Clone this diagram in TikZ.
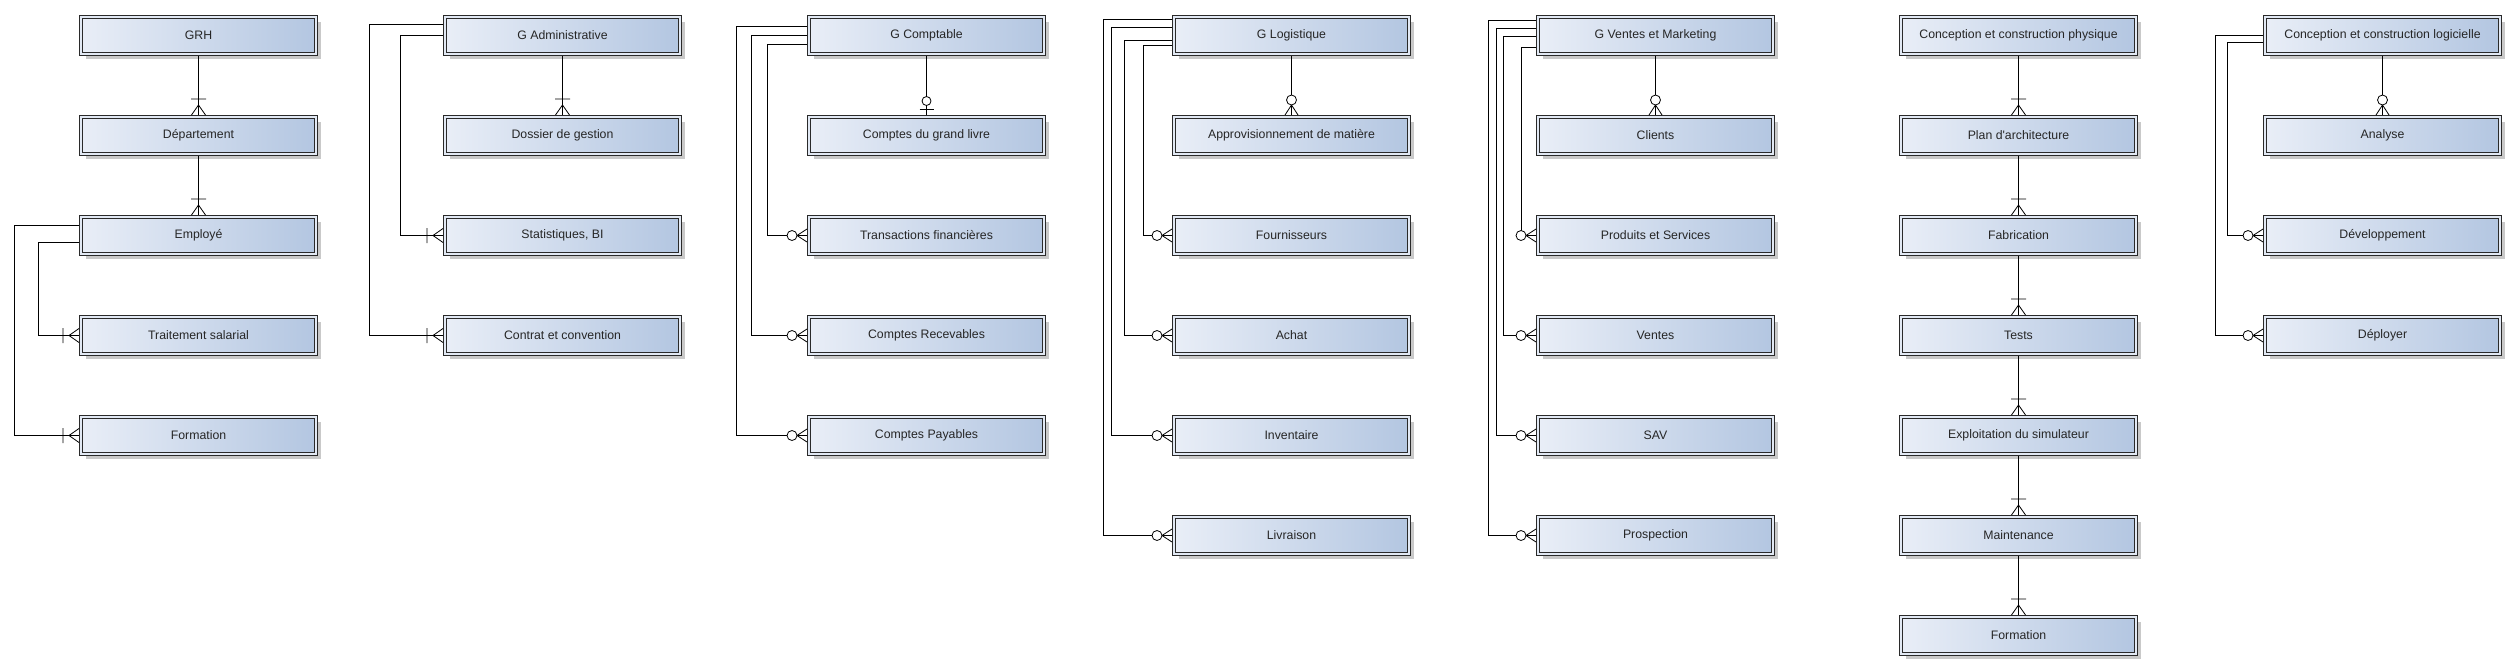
\documentclass[tikz,border=0pt]{standalone}
\usepackage{fontspec}
\setmainfont{Liberation Sans}
\usepackage{xcolor}
\usepackage{tikz}
\usetikzlibrary{positioning,shadows}
\definecolor{boxl}{HTML}{E9EEF7}
\definecolor{boxr}{HTML}{B3C6E1}
\definecolor{boxgap}{HTML}{E2E9F4}
\definecolor{boxline}{HTML}{2A2A2A}

\begin{document}
\begin{tikzpicture}[
x=1pt,y=-1pt,
node distance=59pt,
entity/.style={left color=boxl,right color=boxr,draw=boxline,line width=.7pt,double=boxgap,double distance=2.6pt,
  minimum width=235pt,minimum height=37pt,outer sep=2pt,inner sep=0pt,text=black!85,
  font=\fontsize{12.3}{14}\selectfont,
  drop shadow={shadow xshift=4.5pt,shadow yshift=-4.5pt,opacity=.3,fill=black!70}},
link/.style={draw=black,line width=.8pt},
crowtop/.pic={\draw[link] (-7,0) -- (0,-10) -- (7,0) (-7.5,-16) -- (7.5,-16);},
crowleft/.pic={\draw[link] (0,-7) -- (-10,0) -- (0,7) (-16,-7.5) -- (-16,7.5);},
zmtop/.pic={\draw[link] (-6.5,0) -- (0,-10) -- (6.5,0); \draw[link,fill=white] (0,-15) circle[radius=5pt];},
zmleft/.pic={\draw[link] (0,-6.5) -- (-10,0) -- (0,6.5); \draw[link,fill=white] (-15,0) circle[radius=5pt];},
zotop/.pic={\draw[link] (-7,-6) -- (7,-6); \draw[link,fill=white] (0,-14) circle[radius=4.5pt];}
]
\useasboundingbox (0,0) rectangle (2517,670);

\node[entity] (grh) at (198.5,35.5) {GRH};
\node[entity,below=of grh] (dep) {Département};
\node[entity,below=of dep] (emp) {Employé};
\node[entity,below=of emp] (trait) {Traitement salarial};
\node[entity,below=of trait] (formrh) {Formation};

\node[entity] (gadm) at (562.5,35.5) {G Administrative};
\node[entity,below=of gadm] (dossier) {Dossier de gestion};
\node[entity,below=of dossier] (stats) {Statistiques, BI};
\node[entity,below=of stats] (contrat) {Contrat et convention};

\node[entity] (gcompt) at (926.5,35.5) {G Comptable};
\node[entity,below=of gcompt] (grandlivre) {Comptes du grand livre};
\node[entity,below=of grandlivre] (transac) {Transactions financières};
\node[entity,below=of transac] (recev) {Comptes Recevables};
\node[entity,below=of recev] (payab) {Comptes Payables};

\node[entity] (glog) at (1291.5,35.5) {G Logistique};
\node[entity,below=of glog] (approv) {Approvisionnement de matière};
\node[entity,below=of approv] (fourn) {Fournisseurs};
\node[entity,below=of fourn] (achat) {Achat};
\node[entity,below=of achat] (invent) {Inventaire};
\node[entity,below=of invent] (livr) {Livraison};

\node[entity] (gvente) at (1655.5,35.5) {G Ventes et Marketing};
\node[entity,below=of gvente] (clients) {Clients};
\node[entity,below=of clients] (produits) {Produits et Services};
\node[entity,below=of produits] (ventes) {Ventes};
\node[entity,below=of ventes] (sav) {SAV};
\node[entity,below=of sav] (prosp) {Prospection};

\node[entity] (cphys) at (2018.5,35.5) {Conception et construction physique};
\node[entity,below=of cphys] (plan) {Plan d\textquotesingle architecture};
\node[entity,below=of plan] (fabric) {Fabrication};
\node[entity,below=of fabric] (tests) {Tests};
\node[entity,below=of tests] (exploit) {Exploitation du simulateur};
\node[entity,below=of exploit] (maint) {Maintenance};
\node[entity,below=of maint] (formph) {Formation};

\node[entity] (clog) at (2382.5,35.5) {Conception et construction logicielle};
\node[entity,below=of clog] (analyse) {Analyse};
\node[entity,below=of analyse] (devel) {Développement};
\node[entity,below=of devel] (deploy) {Déployer};

\foreach \a/\b in {grh/dep,dep/emp,gadm/dossier,cphys/plan,plan/fabric,fabric/tests,tests/exploit,exploit/maint,maint/formph}{
  \draw[link] (\a) -- (\b);
  \pic at (\b.north) {crowtop};
}
\foreach \a/\b in {glog/approv,gvente/clients,clog/analyse}{
  \draw[link] (\a) -- (\b);
  \pic at (\b.north) {zmtop};
}
\draw[link] (gcompt) -- (grandlivre);
\pic at (grandlivre.north) {zotop};

\draw[link] ([yshift=-6.5pt]emp.west) -- ++(-40.5,0) |- (trait.west);
\draw[link] ([yshift=10.5pt]emp.west) -- ++(-64.5,0) |- (formrh.west);
\draw[link] (gadm.west) -- ++(-43,0) |- (stats.west);
\draw[link] ([yshift=11.5pt]gadm.west) -- ++(-73.5,0) |- (contrat.west);
\foreach \b in {trait,formrh,stats,contrat}
  \pic at (\b.west) {crowleft};

\draw[link] ([yshift=-8.5pt]gcompt.west) -- ++(-40,0) |- (transac.west);
\draw[link] (gcompt.west) -- ++(-55.5,0) |- (recev.west);
\draw[link] ([yshift=9.5pt]gcompt.west) -- ++(-70.3,0) |- (payab.west);

\draw[link] ([yshift=-9.8pt]glog.west) -- ++(-29,0) |- (fourn.west);
\draw[link] ([yshift=-4.8pt]glog.west) -- ++(-48,0) |- (achat.west);
\draw[link] ([yshift=7.8pt]glog.west) -- ++(-60.5,0) |- (invent.west);
\draw[link] ([yshift=16.2pt]glog.west) -- ++(-69,0) |- (livr.west);

\draw[link] ([yshift=-11.5pt]gvente.west) -- ++(-15,0) |- (produits.west);
\draw[link] ([yshift=-.5pt]gvente.west) -- ++(-32.5,0) |- (ventes.west);
\draw[link] ([yshift=7pt]gvente.west) -- ++(-39.5,0) |- (sav.west);
\draw[link] ([yshift=15.5pt]gvente.west) -- ++(-47.5,0) |- (prosp.west);

\draw[link] ([yshift=-6.5pt]clog.west) -- ++(-36,0) |- (devel.west);
\draw[link] (clog.west) -- ++(-47.5,0) |- (deploy.west);

\foreach \b in {transac,recev,payab,fourn,achat,invent,livr,produits,ventes,sav,prosp,devel,deploy}
  \pic at (\b.west) {zmleft};
\end{tikzpicture}
\end{document}
